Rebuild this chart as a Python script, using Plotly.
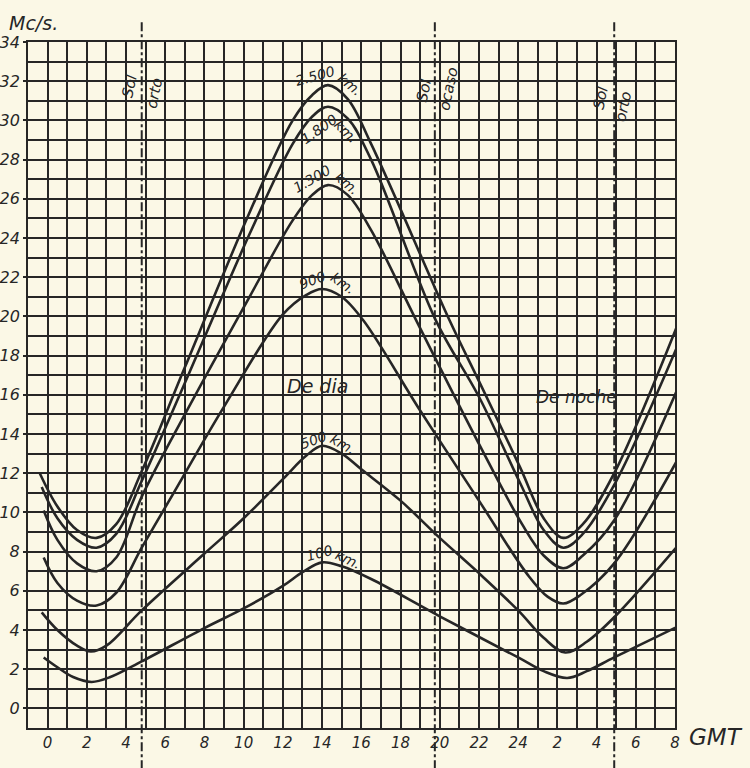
import plotly.graph_objects as go

# ---- data (hours GMT, continuous from 0 to 32 = 08h next day; values in Mc/s) ----
x_2500 = [-0.4, 0.5, 1.5, 2.5, 3.5, 4.8, 7.0, 10.3, 12.5, 13.5, 14.3, 15.3, 16.5, 20.5, 22.0, 24.1, 25.3, 26.3, 27.3, 28.9, 32.3]
v_2500 = [12.0, 10.3, 9.1, 8.7, 9.4, 12.1, 17.4, 25.3, 30.0, 31.3, 31.8, 31.1, 28.8, 19.8, 16.7, 12.3, 9.7, 8.7, 9.4, 12.0, 20.0]

x_1800 = [-0.3, 0.5, 1.5, 2.5, 3.5, 4.8, 7.0, 10.3, 12.5, 13.5, 14.3, 15.3, 16.5, 19.8, 22.0, 24.1, 25.3, 26.3, 27.3, 28.9, 32.3]
v_1800 = [11.3, 9.7, 8.6, 8.2, 8.9, 11.6, 16.6, 24.2, 28.8, 30.2, 30.7, 30.1, 28.0, 19.8, 15.9, 11.5, 9.1, 8.2, 8.9, 11.4, 18.9]

x_1300 = [-0.2, 0.5, 1.5, 2.5, 3.5, 4.8, 7.0, 10.3, 12.5, 13.5, 14.3, 15.3, 16.5, 18.8, 22.0, 24.2, 25.3, 26.3, 27.3, 28.9, 32.3]
v_1300 = [10.1, 8.6, 7.4, 7.0, 7.7, 10.8, 15.0, 21.0, 24.9, 26.2, 26.7, 26.2, 24.4, 19.8, 13.5, 9.4, 7.8, 7.15, 7.8, 9.6, 16.7]

x_900 = [-0.2, 0.5, 1.5, 2.5, 3.5, 4.8, 6.2, 9.0, 12.0, 13.2, 14.0, 15.0, 16.1, 19.0, 22.0, 24.5, 25.5, 26.3, 27.2, 28.9, 32.3]
v_900 = [7.7, 6.4, 5.5, 5.25, 5.9, 8.2, 10.6, 15.4, 20.1, 21.1, 21.4, 21.0, 19.8, 15.2, 10.6, 6.8, 5.7, 5.35, 5.8, 7.4, 13.0]

x_500 = [-0.3, 0.5, 1.5, 2.2, 3.0, 4.8, 8.0, 10.0, 12.0, 13.2, 14.0, 15.0, 16.0, 18.0, 20.0, 22.0, 24.0, 25.3, 26.4, 27.5, 28.9, 32.4]
v_500 = [4.9, 4.0, 3.2, 2.9, 3.2, 5.0, 7.9, 9.7, 11.7, 12.9, 13.4, 13.0, 12.2, 10.6, 8.7, 6.9, 5.0, 3.6, 2.85, 3.4, 4.65, 8.6]

x_100 = [-0.2, 0.5, 1.3, 2.25, 3.2, 4.8, 8.0, 10.0, 12.0, 13.0, 14.0, 15.0, 16.5, 20.0, 24.0, 25.3, 26.5, 27.5, 28.9, 32.4]
v_100 = [2.6, 2.1, 1.6, 1.35, 1.6, 2.4, 4.1, 5.1, 6.25, 6.95, 7.45, 7.25, 6.6, 4.7, 2.6, 1.9, 1.55, 1.9, 2.6, 4.3]

series = [
    ("2.500 km.", x_2500, v_2500),
    ("1.800 km.", x_1800, v_1800),
    ("1.300 km.", x_1300, v_1300),
    ("900 km.", x_900, v_900),
    ("500 km.", x_500, v_500),
    ("100 km.", x_100, v_100),
]

x_tickvals = list(range(0, 33, 2))
x_ticktext = ["0", "2", "4", "6", "8", "10", "12", "14", "16", "18", "20", "22", "24", "2", "4", "6", "8"]
y_tickvals = list(range(0, 35, 2))

# sun events (hours)
sol_x = [4.8, 19.75, 28.9]
sol_txt = ["orto", "ocaso", "orto"]

INK = "#262626"
PAPER = "#fbf8e6"
FONT = "DejaVu Sans"

fig = go.Figure()
for name, xs, vs in series:
    fig.add_trace(go.Scatter(x=xs, y=vs, mode="lines", name=name,
                             line=dict(color=INK, width=2.6, shape="spline", smoothing=1.0),
                             hoverinfo="skip", showlegend=False))

# sunrise / sunset lines
for sx, st in zip(sol_x, sol_txt):
    fig.add_shape(type="line", xref="x", yref="paper", x0=sx, x1=sx, y0=-0.06, y1=1.032,
                  line=dict(color=INK, width=2, dash="dashdot"))

lab_font = dict(family=FONT, size=15, color=INK, style="italic")
sol_ann = [
    (4.19, 31.75, "Sol"), (5.45, 31.4, "orto"),
    (19.2, 31.55, "Sol"), (20.45, 31.6, "ocaso"),
    (28.2, 31.15, "Sol"), (29.35, 30.7, "orto"),
]
for ax_, ay_, t in sol_ann:
    fig.add_annotation(x=ax_, y=ay_, text=t, showarrow=False, textangle=-78,
                       font=lab_font)

curve_labels = [
    (13.62, 32.25, "2.500", -15), (15.41, 31.85, "km.", 40),
    (13.85, 29.55, "1.800", -35), (15.2, 29.45, "km.", 45),
    (13.47, 27.0, "1.300", -30), (15.25, 26.8, "km.", 40),
    (13.52, 21.85, "900", -20), (15.05, 21.7, "km.", 35),
    (13.57, 13.7, "500", -20), (15.05, 13.5, "km.", 30),
    (13.88, 7.95, "100", -15), (15.3, 7.6, "km.", 25),
]
for ax_, ay_, t, ang in curve_labels:
    fig.add_annotation(x=ax_, y=ay_, text=t, showarrow=False, textangle=ang,
                       font=dict(family=FONT, size=14, color=INK, style="italic"))

fig.add_annotation(x=13.78, y=16.43, text="De dia", showarrow=False,
                   font=dict(family=FONT, size=19, color=INK, style="italic"))
fig.add_annotation(x=27.0, y=15.87, text="De noche", showarrow=False,
                   font=dict(family=FONT, size=17, color=INK, style="italic"))

fig.add_annotation(xref="paper", yref="paper", x=-0.032, y=1.027, xanchor="left", yanchor="middle",
                   text="Mc/s.", showarrow=False,
                   font=dict(family=FONT, size=19, color=INK, style="italic"))
fig.add_annotation(xref="paper", yref="paper", x=1.018, y=-0.013, xanchor="left", yanchor="middle",
                   text="GMT", showarrow=False,
                   font=dict(family=FONT, size=23, color=INK, style="italic"))

grid = dict(showgrid=True, gridcolor=INK, gridwidth=1.6, zeroline=False,
            showline=True, linecolor=INK, linewidth=2, mirror=True, automargin=False)

fig.update_xaxes(range=[-1, 32], tickmode="array", tickvals=x_tickvals, ticktext=x_ticktext,
                 tickfont=dict(family=FONT, size=15, color=INK, style="italic"),
                 ticks="", minor=dict(tickmode="linear", tick0=-1, dtick=1, showgrid=True,
                                      gridcolor=INK, gridwidth=1.6, ticks=""),
                 **grid)
fig.update_yaxes(range=[-1, 34], tickmode="array", tickvals=y_tickvals,
                 tickfont=dict(family=FONT, size=16, color=INK, style="italic"),
                 ticks="outside", ticklen=3, tickcolor=INK, tickwidth=1.6,
                 minor=dict(tickmode="linear", tick0=-1, dtick=1, showgrid=True,
                            gridcolor=INK, gridwidth=1.6, ticks=""),
                 **grid)

fig.update_layout(width=750, height=768, margin=dict(l=28, r=75, t=42, b=40),
                  paper_bgcolor=PAPER, plot_bgcolor=PAPER, showlegend=False)

fig.write_html("out.html")
